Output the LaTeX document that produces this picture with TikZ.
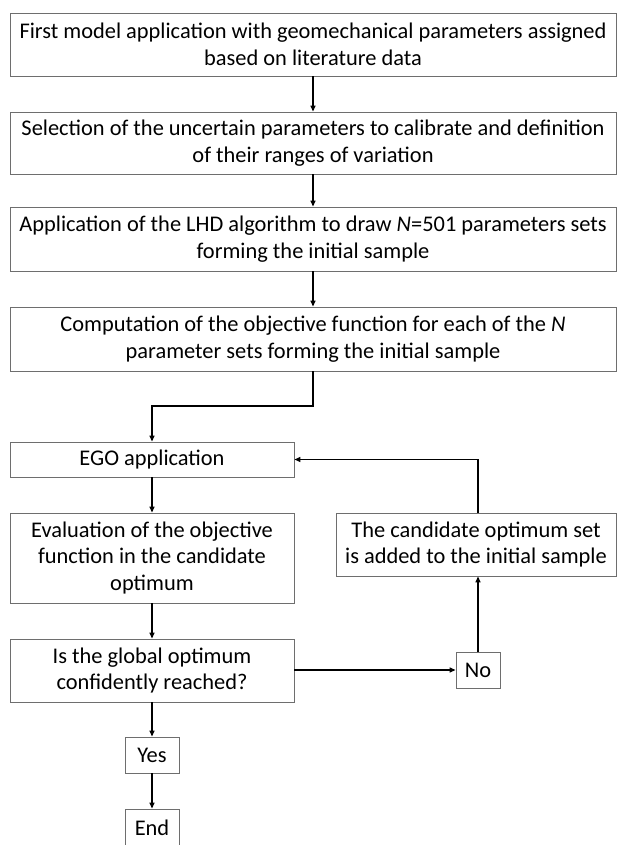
\documentclass[tikz,border=0pt]{standalone}
\usepackage{fontspec}
\setmainfont{Carlito}
\usetikzlibrary{arrows.meta}
\definecolor{boxgray}{HTML}{6E6E6E}
\begin{document}
\begin{tikzpicture}[x=1pt,y=1pt,
  box/.style={draw=boxgray, line width=0.9pt, rectangle, align=center, inner sep=0pt,
    font=\fontsize{22.4}{26.5}\selectfont},
  flow/.style={draw=black, line width=1.4pt, -{Triangle[length=6pt,width=5pt]}}]
\useasboundingbox (0,0) rectangle (617,-845);
\fill[white] (0,0) rectangle (617,-845);
\node[box, minimum width=606, minimum height=63] (b1) at (313,-44.5)
  {First model application with geomechanical parameters assigned\\based on literature data};
\node[box, minimum width=606, minimum height=62] (b2) at (313,-143)
  {Selection of the uncertain parameters to calibrate and definition\\of their ranges of variation};
\node[box, minimum width=606, minimum height=64] (b3) at (313,-239)
  {Application of the LHD algorithm to draw \textit{N}=501 parameters sets\\forming the initial sample};
\node[box, minimum width=606, minimum height=64] (b4) at (313,-339)
  {Computation of the objective function for each of the \textit{N}\\parameter sets forming the initial sample};
\node[box, minimum width=284, minimum height=35] (ego) at (152,-459.5) {EGO application};
\node[box, minimum width=284, minimum height=90] (eval) at (152,-558)
  {Evaluation of the objective\\function in the candidate\\optimum};
\node[box, minimum width=284, minimum height=63] (is) at (152,-670.5)
  {Is the global optimum\\confidently reached?};
\node[box, minimum width=54, minimum height=36] (yes) at (152,-755) {Yes};
\node[box, minimum width=54, minimum height=38] (end) at (152,-828) {End};
\node[box, minimum width=280, minimum height=63] (cand) at (476,-544.5)
  {The candidate optimum set\\is added to the initial sample};
\node[box, minimum width=44, minimum height=36] (no) at (478,-670) {No};
\coordinate (k1) at (313,-406);
\coordinate (k2) at (152,-406);
\coordinate (k3) at (478,-459.5);
\draw[flow] (b1) -- (b2);
\draw[flow] (b2) -- (b3);
\draw[flow] (b3) -- (b4);
\draw[flow] (b4.south) -- (k1) -- (k2) -- (ego.north);
\draw[flow] (ego) -- (eval);
\draw[flow] (eval) -- (is);
\draw[flow] (is) -- (yes);
\draw[flow] (yes) -- (end);
\draw[flow] (is.east |- no.west) -- (no.west);
\draw[flow] (no.north) -- (cand.south -| no.north);
\draw[flow] (cand.north -| k3) -- (k3) -- (ego.east);
\end{tikzpicture}
\end{document}
